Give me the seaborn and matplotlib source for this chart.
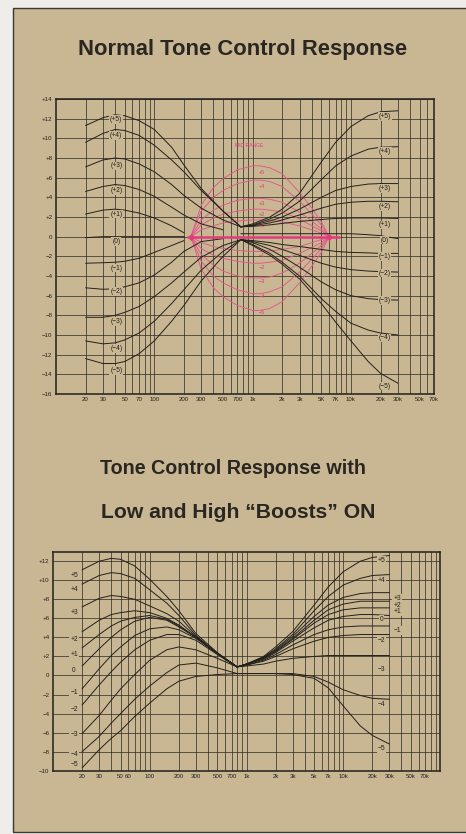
import numpy as np
import pandas as pd
import matplotlib
matplotlib.use('Agg')
import matplotlib.pyplot as plt
import seaborn as sns
from matplotlib.patches import Rectangle
from matplotlib.ticker import FixedLocator, NullLocator

sns.set_theme(style='white')
plt.rcParams['font.family'] = ['Liberation Sans', 'DejaVu Sans']

BG = '#c9b692'
INK = '#23211c'
GRID = '#2e2a22'
PINK = '#e23c7c'
PINK_LIGHT = '#e2588c'

levels = ['+5', '+4', '+3', '+2', '+1', '0', '−1', '−2', '−3', '−4', '−5']
nan = np.nan

# ---------------- top chart: normal response ----------------
top_bass_freq = [20, 30, 40, 50, 70, 100, 150, 200, 300, 500, 760]
top_bass = {
    '+5': [11.3, 12.1, 12.4, 12.3, 11.8, 10.9, 9.1, 7.3, 4.9, 2.6, 1.0],
    '+4': [9.6, 10.5, 10.9, 10.8, 10.3, 9.3, 7.8, 6.6, 4.7, 2.6, 1.0],
    '+3': [7.1, 7.8, 8.0, 7.9, 7.4, 6.6, 5.3, 4.2, 2.9, 1.7, 1.0],
    '+2': [4.6, 5.1, 5.3, 5.2, 4.8, 4.1, 3.0, 2.2, 1.3, 0.7, nan],
    '+1': [2.3, 2.7, 2.8, 2.7, 2.4, 1.9, 1.1, 0.4, nan, nan, nan],
    '0':  [-0.1, 0.0, 0.0, 0.0, 0.0, 0.0, 0.0, 0.0, nan, nan, nan],
    '−1': [-2.7, -2.65, -2.6, -2.5, -2.2, -1.6, -0.9, -0.4, nan, nan, nan],
    '−2': [-5.2, -5.35, -5.3, -5.1, -4.7, -3.9, -2.6, -1.5, -0.5, -0.2, nan],
    '−3': [-8.2, -8.2, -8.0, -7.7, -7.1, -6.1, -4.7, -3.6, -2.1, -0.9, -0.3],
    '−4': [-10.6, -10.9, -10.8, -10.5, -9.8, -8.6, -6.8, -5.4, -3.4, -1.5, -0.3],
    '−5': [-12.4, -12.9, -12.9, -12.7, -11.9, -10.6, -8.6, -7.0, -4.5, -2.0, -0.3],
}
top_treble_freq = [760, 1000, 1500, 2000, 3000, 5000, 7000, 10000, 15000, 20000, 30000]
top_treble = {
    '+5': [1.0, 1.3, 2.0, 2.8, 4.4, 7.6, 9.6, 11.2, 12.3, 12.7, 12.8],
    '+4': [1.0, 1.2, 1.8, 2.4, 3.6, 5.8, 7.2, 8.2, 8.9, 9.1, 9.15],
    '+3': [1.0, 1.15, 1.6, 2.0, 2.8, 4.0, 4.7, 5.1, 5.35, 5.4, 5.4],
    '+2': [1.0, 1.1, 1.4, 1.7, 2.2, 2.9, 3.3, 3.5, 3.6, 3.6, 3.55],
    '+1': [1.0, 1.05, 1.2, 1.35, 1.55, 1.75, 1.85, 1.9, 1.9, 1.9, 1.85],
    '0':  [0.3, 0.3, 0.3, 0.3, 0.3, 0.3, 0.3, 0.3, 0.2, 0.1, -0.2],
    '−1': [-0.3, -0.4, -0.6, -0.8, -1.0, -1.3, -1.5, -1.6, -1.65, -1.7, -1.7],
    '−2': [-0.3, -0.5, -0.9, -1.3, -1.9, -2.7, -3.1, -3.35, -3.5, -3.55, -3.6],
    '−3': [-0.3, -0.6, -1.3, -2.0, -3.1, -4.6, -5.4, -6.0, -6.3, -6.4, -6.45],
    '−4': [-0.3, -0.8, -1.7, -2.6, -4.0, -6.3, -7.6, -8.8, -9.5, -9.8, -10.0],
    '−5': [-0.3, -0.9, -1.9, -2.8, -4.3, -6.8, -8.7, -10.6, -12.7, -13.9, -14.9],
}
mid_freq = [236, 300, 400, 500, 700, 1000, 1200, 1500, 2000, 3000, 4000, 5000, 6000]
mid_curves = {
    '+5': [0, 3.2, 5.0, 5.9, 6.8, 7.2, 7.2, 7.0, 6.4, 4.5, 2.9, 1.5, 0],
    '+4': [0, 2.6, 4.0, 4.7, 5.4, 5.75, 5.75, 5.6, 5.1, 3.6, 2.3, 1.2, 0],
    '+3': [0, 1.7, 2.7, 3.2, 3.7, 3.9, 3.9, 3.8, 3.5, 2.5, 1.6, 0.8, 0],
    '+2': [0, 1.2, 1.9, 2.3, 2.6, 2.8, 2.8, 2.7, 2.5, 1.8, 1.1, 0.6, 0],
    '+1': [0, 0.7, 1.1, 1.4, 1.6, 1.7, 1.7, 1.65, 1.5, 1.1, 0.7, 0.35, 0],
    '−1': [0, -0.6, -1.0, -1.2, -1.4, -1.5, -1.5, -1.45, -1.3, -1.0, -0.6, -0.3, 0],
    '−2': [0, -1.2, -1.9, -2.2, -2.5, -2.7, -2.7, -2.6, -2.4, -1.7, -1.1, -0.6, 0],
    '−3': [0, -1.8, -2.9, -3.5, -4.0, -4.2, -4.2, -4.1, -3.7, -2.7, -1.7, -0.9, 0],
    '−4': [0, -2.5, -4.0, -4.7, -5.4, -5.8, -5.8, -5.6, -5.1, -3.6, -2.3, -1.2, 0],
    '−5': [0, -3.3, -5.2, -6.1, -7.0, -7.5, -7.5, -7.3, -6.6, -4.7, -3.0, -1.6, 0],
}
mid_label_db = [6.5, 5.1, 3.4, 2.3, 1.1, -1.9, -3.1, -4.6, -6.1, -7.7]
mid_label_freq = 1250
mid_axis_freq = [220, 7500]
mid_axis_db = [0, 0]
mid_node_freq = [236, 6000]
mid_node_db = [0, 0]

top_left_label_freq = 41
top_left_label_db = [11.9, 10.3, 7.2, 4.7, 2.3, -0.5, -3.2, -5.6, -8.65, -11.4, -13.6]
top_right_label_freq = 22000
top_right_label_db = [12.2, 8.7, 4.9, 3.05, 1.2, -0.35, -2.0, -3.7, -6.5, -10.3, -15.2]

top_xlabels = {20: '20', 30: '30', 50: '50', 70: '70', 100: '100', 200: '200', 300: '300',
               500: '500', 700: '700', 1000: '1k', 2000: '2k', 3000: '3k', 5000: '5K',
               7000: '7K', 10000: '10k', 20000: '20k', 30000: '30k', 50000: '50k', 70000: '70k'}

# ---------------- bottom chart: boosts ON ----------------
bot_bass_freq = [20, 30, 40, 50, 70, 100, 150, 200, 300, 500, 800]
bot_bass = {
    '+5': [11.1, 12.0, 12.3, 12.2, 11.5, 10.1, 8.3, 6.8, 4.4, 2.4, 0.9],
    '+4': [9.6, 10.5, 10.8, 10.7, 10.2, 9.0, 7.6, 6.3, 4.2, 2.3, 0.9],
    '+3': [7.2, 8.1, 8.4, 8.3, 8.0, 7.3, 6.5, 5.7, 4.1, 2.3, 0.9],
    '+2': [4.6, 5.8, 6.4, 6.6, 6.8, 6.6, 6.0, 5.3, 4.0, 2.3, 0.9],
    '+1': [2.9, 4.3, 5.2, 5.7, 6.1, 6.3, 5.9, 5.2, 4.0, 2.3, 0.9],
    '0':  [1.0, 2.8, 4.0, 4.8, 5.7, 6.1, 5.8, 5.1, 4.0, 2.3, 0.9],
    '−1': [-1.4, 0.7, 2.1, 3.0, 4.2, 4.9, 5.1, 4.8, 3.9, 2.3, 0.9],
    '−2': [-3.1, -1.0, 0.4, 1.4, 2.7, 3.7, 4.3, 4.3, 3.7, 2.2, 0.9],
    '−3': [-6.1, -4.2, -2.6, -1.4, 0.1, 1.6, 2.7, 3.0, 2.7, 1.8, 0.9],
    '−4': [-8.0, -6.4, -5.0, -4.0, -2.5, -1.1, 0.3, 1.1, 1.3, 0.8, 0.2],
    '−5': [-9.7, -7.8, -6.6, -5.8, -4.3, -2.9, -1.4, -0.6, -0.1, 0.1, 0.2],
}
bot_treble_freq = [800, 1000, 1500, 2000, 3000, 5000, 7000, 10000, 15000, 20000, 30000]
bot_treble = {
    '+5': [0.9, 1.2, 2.0, 3.0, 4.6, 7.4, 9.3, 10.9, 12.0, 12.4, 12.6],
    '+4': [0.9, 1.2, 1.9, 2.8, 4.3, 6.8, 8.3, 9.5, 10.2, 10.5, 10.6],
    '+3': [0.9, 1.2, 1.9, 2.7, 4.1, 6.2, 7.4, 8.2, 8.6, 8.7, 8.7],
    '+2': [0.9, 1.2, 1.8, 2.6, 3.9, 5.8, 6.9, 7.5, 7.8, 7.8, 7.8],
    '+1': [0.9, 1.2, 1.8, 2.5, 3.8, 5.5, 6.4, 6.9, 7.1, 7.1, 7.1],
    '0':  [0.9, 1.2, 1.7, 2.4, 3.6, 5.0, 5.8, 6.2, 6.4, 6.4, 6.3],
    '−1': [0.9, 1.1, 1.6, 2.2, 3.2, 4.3, 4.8, 5.1, 5.2, 5.2, 5.2],
    '−2': [0.9, 1.1, 1.5, 2.0, 2.8, 3.6, 4.0, 4.2, 4.3, 4.3, 4.3],
    '−3': [0.9, 1.0, 1.2, 1.5, 1.8, 2.0, 2.1, 2.1, 2.1, 2.1, 2.1],
    '−4': [0.2, 0.2, 0.2, 0.2, 0.2, -0.1, -0.7, -1.5, -2.1, -2.4, -2.5],
    '−5': [0.2, 0.2, 0.2, 0.2, 0.1, -0.3, -1.3, -3.2, -5.3, -6.3, -7.2],
}
bot_left_label_freq = 16.5
bot_left_label_db = [10.5, 9.0, 6.6, 3.8, 2.2, 0.5, -1.8, -3.6, -6.2, -8.3, -9.4]
bot_right_label_freq = [25000, 25000, 36000, 36000, 36000, 25000, 36000, 25000, 25000, 25000, 25000]
bot_right_label_db = [12.1, 10.0, 8.1, 7.4, 6.7, 5.9, 4.7, 3.7, 0.6, -3.0, -7.7]

bot_xlabels = {20: '20', 30: '30', 50: '50', 60: '60', 100: '100', 200: '200', 300: '300',
               500: '500', 700: '700', 1000: '1k', 2000: '2k', 3000: '3k', 5000: '5k',
               7000: '7k', 10000: '10k', 20000: '20k', 30000: '30k', 50000: '50k', 70000: '70k'}


def long_frame(freqs, curves, tag):
    rows = []
    for name, vals in curves.items():
        for f, v in zip(freqs, vals):
            rows.append({'freq': f, 'db': v, 'curve': f'{tag}{name}'})
    return pd.DataFrame(rows).dropna()


def grid_freqs(max_f):
    out = []
    for dec in [10, 100, 1000, 10000]:
        for m in range(1, 10):
            f = m * dec
            if 20 <= f <= max_f:
                out.append(f)
    return out


def dblabel(v):
    if v > 0:
        return f'+{v}'
    if v < 0:
        return f'−{abs(v)}'
    return '0'


def style_axes(ax, xlim, ylim, max_grid, xlabels, yvals):
    ax.set_facecolor('none')
    ax.set_xscale('log')
    gf = grid_freqs(max_grid)
    ax.xaxis.set_major_locator(FixedLocator(gf))
    ax.xaxis.set_minor_locator(NullLocator())
    ax.set_xticklabels([xlabels.get(f, '') for f in gf])
    ax.set_yticks(yvals)
    ax.set_yticklabels([dblabel(v) for v in yvals])
    ax.set_xlim(*xlim)
    ax.set_ylim(*ylim)
    ax.grid(True, color=GRID, lw=0.6, alpha=0.85)
    ax.set_axisbelow(True)
    ax.tick_params(length=0, labelsize=4.4, colors=INK, pad=2.5)
    for s in ax.spines.values():
        s.set_color(INK)
        s.set_linewidth(1.1)
        s.set_visible(True)
    ax.set_xlabel('')
    ax.set_ylabel('')


fig = plt.figure(figsize=(4.66, 8.34), dpi=100)
fig.patch.set_facecolor('#eeede9')
frame = Rectangle((13 / 466, 2 / 834), 1.0, 824 / 834, transform=fig.transFigure,
                  facecolor=BG, edgecolor='#3b3833', lw=1.0, zorder=-10)
fig.patches.append(frame)

fig.text(243 / 466, 1 - 55 / 834, 'Normal Tone Control Response', ha='center', va='baseline',
         fontsize=15.8, fontweight='bold', color='#2a2722')
fig.text(233 / 466, 1 - 474 / 834, 'Tone Control Response with', ha='center', va='baseline',
         fontsize=14.2, fontweight='bold', color='#2a2722')
fig.text(238 / 466, 1 - 518 / 834, 'Low and High \u201cBoosts\u201d ON', ha='center', va='baseline',
         fontsize=15.2, fontweight='bold', color='#2a2722')

bbox = dict(boxstyle='square,pad=0.12', fc=BG, ec='none')

# ----- top axes -----
ax1 = fig.add_axes([56 / 466, 1 - 394 / 834, 378 / 466, 295 / 834], zorder=2)
df_mid = long_frame(mid_freq, mid_curves, 'm')
sns.lineplot(data=df_mid, x='freq', y='db', units='curve', estimator=None, sort=True,
             color=PINK_LIGHT, lw=0.65, ax=ax1, legend=False)
df_top = pd.concat([long_frame(top_bass_freq, top_bass, 'b'),
                    long_frame(top_treble_freq, top_treble, 't')])
sns.lineplot(data=df_top, x='freq', y='db', units='curve', estimator=None, sort=True,
             color=INK, lw=0.7, ax=ax1, legend=False)
sns.lineplot(x=mid_axis_freq, y=mid_axis_db, color=PINK, lw=1.8, ax=ax1, legend=False)
sns.scatterplot(x=mid_node_freq, y=mid_node_db, color=PINK, marker='D', s=14, lw=0, ax=ax1,
                legend=False, zorder=5)
style_axes(ax1, (10, 70000), (-16, 14), 70000, top_xlabels, list(range(-16, 15, 2)))

for lab, y in zip(levels, top_left_label_db):
    ax1.text(top_left_label_freq, y, f'({lab})', ha='center', va='center', fontsize=4.8,
             color=INK, bbox=bbox, zorder=6)
for lab, y in zip(levels, top_right_label_db):
    ax1.text(top_right_label_freq, y, f'({lab})', ha='center', va='center', fontsize=4.8,
             color=INK, bbox=bbox, zorder=6)
for lab, y in zip([l for l in levels if l != '0'], mid_label_db):
    ax1.text(mid_label_freq, y, lab, ha='center', va='center', fontsize=4.0,
             color=PINK, zorder=6)
ax1.text(920, 9.3, 'MID RANGE', ha='center', va='center', fontsize=3.6, color=PINK)

# ----- bottom axes -----
ax2 = fig.add_axes([53 / 466, 1 - 770.7 / 834, 387 / 466, 219 / 834], zorder=2)
df_bot = pd.concat([long_frame(bot_bass_freq, bot_bass, 'b'),
                    long_frame(bot_treble_freq, bot_treble, 't')])
sns.lineplot(data=df_bot, x='freq', y='db', units='curve', estimator=None, sort=True,
             color=INK, lw=0.7, ax=ax2, legend=False)
style_axes(ax2, (10, 100000), (-10, 13), 90000, bot_xlabels, list(range(-10, 13, 2)))

for lab, y in zip(levels, bot_left_label_db):
    ax2.text(bot_left_label_freq, y, lab, ha='center', va='center', fontsize=4.8,
             color=INK, bbox=bbox, zorder=6)
for lab, x, y in zip(levels, bot_right_label_freq, bot_right_label_db):
    ax2.text(x, y, lab, ha='center', va='center', fontsize=4.8, color=INK, bbox=bbox, zorder=6)

fig.savefig('out.png', dpi=100, facecolor=fig.get_facecolor())
